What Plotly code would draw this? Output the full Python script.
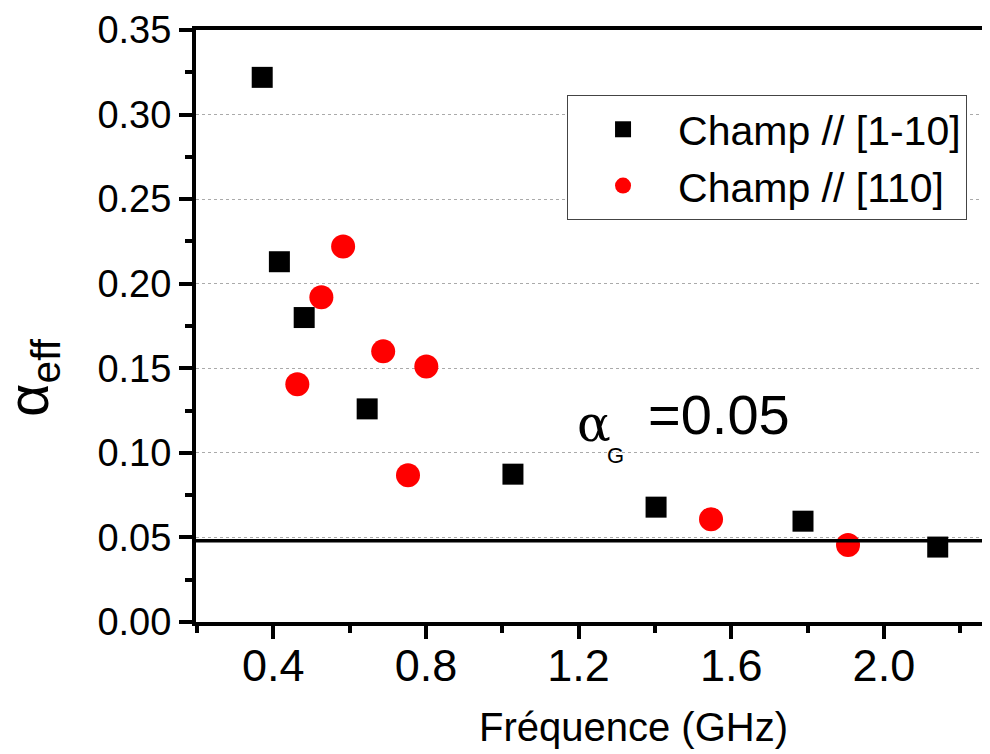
import plotly.graph_objects as go

# Data
freq_1m10 = [0.371, 0.416, 0.481, 0.646, 1.028, 1.403, 1.788, 2.141]
alpha_1m10 = [0.322, 0.213, 0.180, 0.126, 0.0874, 0.0679, 0.0596, 0.0443]

freq_110 = [0.463, 0.526, 0.583, 0.688, 0.753, 0.801, 1.547, 1.906]
alpha_110 = [0.1405, 0.192, 0.222, 0.160, 0.0868, 0.151, 0.0608, 0.0455]

alpha_G_level = 0.048
x_ticks = [0.4, 0.8, 1.2, 1.6, 2.0]
x_tick_labels = ["0.4", "0.8", "1.2", "1.6", "2.0"]
y_ticks = [0.00, 0.05, 0.10, 0.15, 0.20, 0.25, 0.30, 0.35]
y_tick_labels = ["0.00", "0.05", "0.10", "0.15", "0.20", "0.25", "0.30", "0.35"]

FONT = "Arial, Liberation Sans, sans-serif"

fig = go.Figure()
fig.add_trace(go.Scatter(
    x=freq_1m10, y=alpha_1m10, mode="markers", name="Champ // [1-10]",
    marker=dict(symbol="square", size=21, color="black", line=dict(width=0)),
))
fig.add_trace(go.Scatter(
    x=freq_110, y=alpha_110, mode="markers", name="Champ // [110]",
    marker=dict(symbol="circle", size=24, color="#ff0000", line=dict(width=0)),
))

fig.add_shape(type="line", xref="paper", yref="y", x0=0, x1=1,
              y0=alpha_G_level, y1=alpha_G_level,
              line=dict(color="black", width=3.5))

# page body has an 8px margin: compensate so the plot lands where the reference has it
fig.update_layout(
    width=982, height=746,
    margin=dict(l=188, r=0, t=22, b=132),
    paper_bgcolor="white", plot_bgcolor="white",
    font=dict(family=FONT, color="black"),
    showlegend=True,
    legend=dict(
        x=0.4673, y=0.890, xanchor="left", yanchor="top",
        bgcolor="white", bordercolor="#444", borderwidth=1,
        font=dict(size=41, family=FONT, color="black"),
        itemwidth=100, tracegroupgap=0,
    ),
    xaxis=dict(
        range=[0.1975, 2.278], tickmode="array", tickvals=x_ticks, ticktext=x_tick_labels,
        showline=True, linecolor="black", linewidth=4, mirror=True,
        ticks="outside", ticklen=13, tickwidth=4, tickcolor="black",
        tickfont=dict(size=45, family=FONT, color="black"),
        minor=dict(ticks="outside", ticklen=7, tickwidth=4, tickcolor="black",
                   tickmode="linear", tick0=0.2, dtick=0.4, showgrid=False),
        showgrid=False, zeroline=False, ticklabelstandoff=-12,
    ),
    yaxis=dict(
        range=[0, 0.35], tickmode="array", tickvals=y_ticks, ticktext=y_tick_labels,
        showline=True, linecolor="black", linewidth=4, mirror=False,
        ticks="outside", ticklen=13, tickwidth=4, tickcolor="black",
        tickfont=dict(size=38, family=FONT, color="black"),
        minor=dict(ticks="outside", ticklen=7, tickwidth=4, tickcolor="black",
                   tickmode="linear", tick0=0.025, dtick=0.05, showgrid=False),
        showgrid=True, gridcolor="#aaaaaa", griddash="dot", gridwidth=1,
        zeroline=False, ticklabelstandoff=0,
    ),
)

# Axis titles
fig.add_annotation(text="Fréquence (GHz)", xref="paper", yref="paper",
                   x=0.5504, y=-0.1774, xanchor="center", yanchor="middle",
                   showarrow=False, font=dict(size=40, family=FONT, color="black"))
fig.add_annotation(text="α<sub>eff</sub>", xref="paper", yref="paper",
                   x=-0.2066, y=0.4139, xanchor="center", yanchor="middle",
                   textangle=-90, showarrow=False,
                   font=dict(size=58, family=FONT, color="black"))

# alpha_G annotation
fig.add_annotation(text="α", xref="x", yref="y",
                   x=1.240, y=0.1170, xanchor="center", yanchor="middle",
                   showarrow=False, font=dict(size=50, family="DejaVu Serif", color="black"))
fig.add_annotation(text="G", xref="x", yref="y",
                   x=1.298, y=0.0986, xanchor="center", yanchor="middle",
                   showarrow=False, font=dict(size=22, family=FONT, color="black"))
fig.add_annotation(text="=0.05", xref="x", yref="y",
                   x=1.376, y=0.1225, xanchor="left", yanchor="middle",
                   showarrow=False, font=dict(size=56, family=FONT, color="black"))

fig.write_html("out.html")
